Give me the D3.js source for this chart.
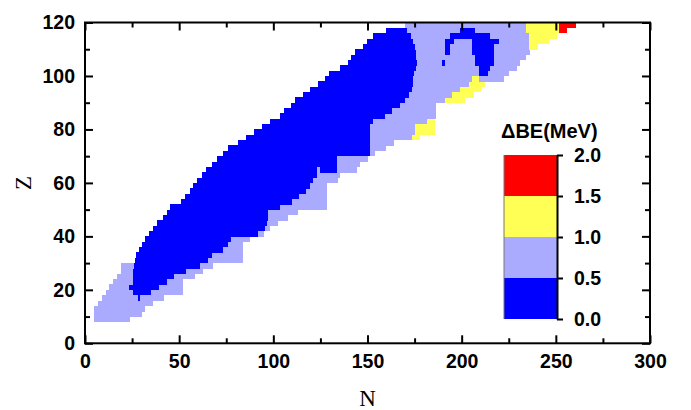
<!DOCTYPE html>
<html><head><meta charset="utf-8">
<script src="https://cdn.jsdelivr.net/npm/d3@7"></script>
<style>body{margin:0;background:#fff}</style>
</head><body><svg id="c" width="691" height="410"></svg>
<script>
// ---------- data ----------
const xTicks = [0, 50, 100, 150, 200, 250, 300];
const xMinor = [25, 75, 125, 175, 225, 275];
const yTicks = [0, 20, 40, 60, 80, 100, 120];
const yMinor = [10, 30, 50, 70, 90, 110];
const legendTicks = [0.0, 0.5, 1.0, 1.5, 2.0];
const legendColors = ["#0000ff", "#aaaaff", "#ffff55", "#ff0000"];
// representative ΔBE (MeV) for each class
const B = 0.25, L = 0.75, Y = 1.25, R = 1.75;
// lower proton number Z of each row (rows are 2 units tall)
const rowZ = [8,10,12,14,16,18,20,22,24,26,28,30,32,34,36,38,40,42,44,46,48,50,52,54,56,58,60,62,64,66,68,70,72,74,76,78,80,82,84,86,88,90,92,94,96,98,100,102,104,106,108,110,112,114,116,118];
// neutron-number boundaries N of the segments in each row
const rowCuts = [
 [5,24],[5,30],[5,32],[7,36],[9,28,29,42],
 [11,25.5,35.3,52],[12.5,23.2,39.4,52],[15,25.5,43.3,52],[17,25.5,47.3,58.3],[19,25.5,53.4,62.8],[19,26,61,68],
 [26.5,65.4,84],[27.3,67.6,84],[28.5,73.4,84],[30.5,75.7,84],[32,77.5,87.6],
 [34,92,95],[36,95.6,98],[38,96.5,102.7],[41.5,97.4,108],[43.6,97.4,113.3],
 [45.3,103.6,128.4],[51,109.8,128.4],[53,113.7,128.4],[55.5,117.4,128.4],[57.5,119.5,128.4],
 [59.5,121,134.6],[62,123,135.5],[64,123,124.6,133.7,144.4],[67.5,133.7,146],[70,133.7,150.5],
 [73.5,151.4,154],[76,151.4,160],[81,151.4,164],[85.5,151.4,173.6,178],[89.5,151.4,175.4,186],
 [94,151.4,175.4,186],[98,153,181.6,186],[103.5,159.4,186.5],[105.5,163,186.5],[109.5,167,186.5],
 [111.5,170,191,202],[115.5,172,195,206.4],[119.5,173.5,199.3,210],[123.5,174,203.7,212.6],
 [127.5,174,205.5,209,222.4],[129.5,174.5,209,214,225],[135.5,176,209,215,229.5],
 [139.5,176.5,189.6,191.3,207.3,217,231.2],[141,176,207.3,217,234.4],
 [143.5,175.5,191.3,193.6,205.5,217,236.5],[147.5,175,191.3,193.6,205.5,217,235.6,240.5],
 [149.7,174,191.3,196,205.5,219.8,235.6,246.3],[153,173,193.6,215.3,235.6,250.7],
 [160,171,199.3,207.3,234,251.6,256],[170,234,251.6,260.5]
];
// ΔBE class value of each segment
const rowBE = [
 [L],[L],[L],[L],[L,B,L],
 [L,B,L],[L,B,L],[L,B,L],[L,B,L],[L,B,L],[L,B,L],
 [B,L],[B,L],[B,L],[B,L],[B,L],
 [B,L],[B,L],[B,L],[B,L],[B,L],
 [B,L],[B,L],[B,L],[B,L],[B,L],
 [B,L],[B,L],[B,L,B,L],[B,L],[B,L],
 [B,L],[B,L],[B,L],[B,L,Y],[B,L,Y],
 [B,L,Y],[B,L,Y],[B,L],[B,L],[B,L],
 [B,L,Y],[B,L,Y],[B,L,Y],[B,L,Y],
 [B,L,Y,L],[B,L,B,L],[B,L,B,L],
 [B,L,B,L,B,L],[B,L,B,L],
 [B,L,B,L,B,L],[B,L,B,L,B,L,Y],
 [B,L,B,L,B,L,Y],[B,L,B,L,Y],
 [B,L,B,L,Y,R],[L,Y,R]
];

// ---------- drawing ----------
const svg = d3.select("#c");
const sans = "'Liberation Sans', Arial, sans-serif";
const serif = "'Liberation Serif', 'Times New Roman', serif";
const x = d3.scaleLinear().domain([0, 300]).range([85, 650]);
const y = d3.scaleLinear().domain([0, 120]).range([343.3, 22.5]);
const color = d3.scaleThreshold().domain([0.5, 1.0, 1.5]).range(legendColors);

const cells = [];
rowZ.forEach((z, i) => {
  const c = rowCuts[i];
  rowBE[i].forEach((v, j) => cells.push({z, n0: c[j], n1: c[j + 1], v}));
});
svg.append("g").selectAll("rect").data(cells).join("rect")
  .attr("x", d => x(d.n0))
  .attr("y", d => y(d.z + 2))
  .attr("width", d => x(d.n1) - x(d.n0))
  .attr("height", d => y(d.z) - y(d.z + 2) + 0.3)
  .attr("fill", d => color(d.v))
  .attr("shape-rendering", "crispEdges");

function styleAxis(g) {
  g.select(".domain").remove();
  g.selectAll("line").attr("stroke", "#000").attr("stroke-width", 2);
  g.selectAll("text").attr("font-family", sans).attr("font-weight", "bold")
    .attr("font-size", 19.5).attr("fill", "#000");
}
const [x0, x1] = x.range();
const [yb, yt] = y.range();
// major/minor ticks on all four sides (inward)
svg.append("g").attr("transform", `translate(0,${yb})`)
  .call(d3.axisBottom(x).tickValues(xTicks).tickSizeInner(-8).tickSizeOuter(0).tickPadding(11)).call(styleAxis);
svg.append("g").attr("transform", `translate(0,${yb})`)
  .call(d3.axisBottom(x).tickValues(xMinor).tickSize(-5).tickFormat("")).call(styleAxis);
svg.append("g").attr("transform", `translate(0,${yt})`)
  .call(d3.axisTop(x).tickValues(xTicks).tickSize(-8).tickFormat("")).call(styleAxis);
svg.append("g").attr("transform", `translate(0,${yt})`)
  .call(d3.axisTop(x).tickValues(xMinor).tickSize(-5).tickFormat("")).call(styleAxis);
svg.append("g").attr("transform", `translate(${x0},0)`)
  .call(d3.axisLeft(y).tickValues(yTicks).tickSizeInner(-8).tickSizeOuter(0).tickPadding(10)).call(styleAxis);
svg.append("g").attr("transform", `translate(${x0},0)`)
  .call(d3.axisLeft(y).tickValues(yMinor).tickSize(-5).tickFormat("")).call(styleAxis);
svg.append("g").attr("transform", `translate(${x1},0)`)
  .call(d3.axisRight(y).tickValues(yTicks).tickSize(-8).tickFormat("")).call(styleAxis);
svg.append("g").attr("transform", `translate(${x1},0)`)
  .call(d3.axisRight(y).tickValues(yMinor).tickSize(-5).tickFormat("")).call(styleAxis);

svg.append("rect").attr("x", x0).attr("y", yt).attr("width", x1 - x0).attr("height", yb - yt)
  .attr("fill", "none").attr("stroke", "#000").attr("stroke-width", 2);

// axis titles
svg.append("text").attr("x", (x0 + x1) / 2).attr("y", 406).attr("text-anchor", "middle")
  .attr("font-family", serif).attr("font-size", 23).text("N");
svg.append("text").attr("transform", `translate(31,${(yb + yt) / 2}) rotate(-90)`).attr("text-anchor", "middle")
  .attr("font-family", serif).attr("font-size", 23).text("Z");

// legend colour bar
const lx0 = 504, lx1 = 557;
const ls = d3.scaleLinear().domain([0, 2]).range([319, 155]);
const lg = svg.append("g");
lg.selectAll("rect").data(legendColors).join("rect")
  .attr("x", lx0).attr("width", lx1 - lx0)
  .attr("y", (c, i) => ls(legendTicks[i + 1]))
  .attr("height", (c, i) => ls(legendTicks[i]) - ls(legendTicks[i + 1]))
  .attr("fill", c => c).attr("shape-rendering", "crispEdges");
lg.append("line").attr("x1", lx0).attr("x2", lx0).attr("y1", ls(2)).attr("y2", ls(0))
  .attr("stroke", "#777").attr("stroke-width", 1);
const la = svg.append("g").attr("transform", `translate(${lx1},0)`)
  .call(d3.axisRight(ls).tickValues(legendTicks).tickSizeInner(6).tickSizeOuter(0).tickPadding(11).tickFormat(d3.format(".1f")));
la.select(".domain").attr("stroke", "#000").attr("stroke-width", 2);
la.selectAll("line").attr("stroke", "#000").attr("stroke-width", 2);
la.selectAll("text").attr("font-family", sans).attr("font-weight", "bold").attr("font-size", 19.5).attr("fill", "#000");
svg.append("text").attr("x", 501).attr("y", 138).attr("font-family", sans).attr("font-weight", "bold")
  .attr("font-size", 20).text("ΔBE(MeV)");
</script>
</body></html>
